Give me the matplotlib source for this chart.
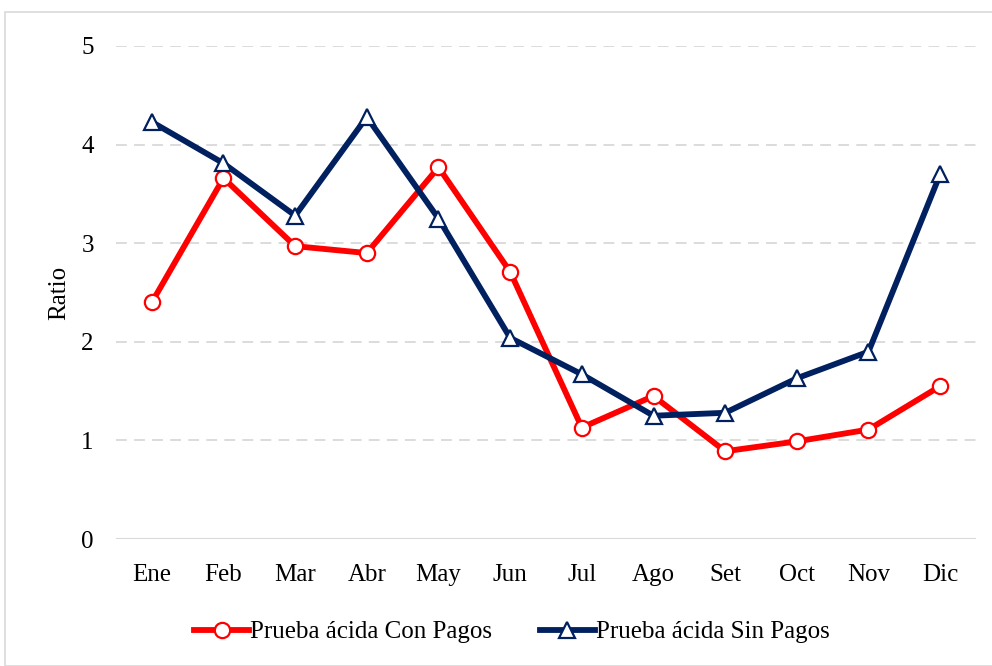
import matplotlib
matplotlib.use("Agg")
import matplotlib.pyplot as plt
from matplotlib.patches import Rectangle

months = ["Ene", "Feb", "Mar", "Abr", "May", "Jun", "Jul", "Ago", "Set", "Oct", "Nov", "Dic"]
con_pagos = [2.40, 3.66, 2.97, 2.90, 3.77, 2.71, 1.13, 1.45, 0.89, 0.99, 1.11, 1.55]
sin_pagos = [4.23, 3.81, 3.28, 4.28, 3.25, 2.04, 1.67, 1.25, 1.28, 1.63, 1.90, 3.70]
yticks = [0, 1, 2, 3, 4, 5]

plt.rcParams['font.family'] = ['Liberation Serif', 'DejaVu Serif']

fig = plt.figure(figsize=(9.92, 6.66), dpi=100)
ax = fig.add_axes([116/992, 1-539/666, (976-116)/992, (539-46)/666])

x = list(range(len(months)))
l1, = ax.plot(x, con_pagos, color='#FF0000', lw=4.2, marker='o', ms=11,
              mfc='white', mec='#FF0000', mew=1.6, label='Prueba ácida Con Pagos', zorder=3)
l2, = ax.plot(x, sin_pagos, color='#002060', lw=4.2, marker='^', ms=11.5,
              mfc='white', mec='#002060', mew=1.6, label='Prueba ácida Sin Pagos', zorder=3)

ax.set_xlim(-0.5, len(months) - 0.5)
ax.set_ylim(0, 5)
ax.set_yticks(yticks)
ax.set_xticks(x)
ax.set_xticklabels(months)
for y in yticks[1:]:
    ax.axhline(y, color='#D9D9D9', lw=1.3, ls=(0, (6, 4)), zorder=1)
ax.axhline(0, color='#D9D9D9', lw=1.5, zorder=1)
for s in ax.spines.values():
    s.set_visible(False)
ax.tick_params(length=0, labelsize=18)
ax.tick_params(axis='x', pad=18)
ax.tick_params(axis='y', pad=16)
ax.set_ylabel('Ratio', fontsize=18)
ax.yaxis.set_label_coords(-0.053, 0.5)

fig.legend(handles=[l1, l2], loc='center', bbox_to_anchor=(512/992, 1-632/666), ncol=2,
           frameon=False, fontsize=18, handlelength=2.2, handletextpad=0.05, columnspacing=1.9)

fig.patches.append(Rectangle((5/992, 0), 1, 1-12/666, transform=fig.transFigure,
                             fill=False, ec='#D9D9D9', lw=1.2))

fig.savefig('out.png', dpi=100)
